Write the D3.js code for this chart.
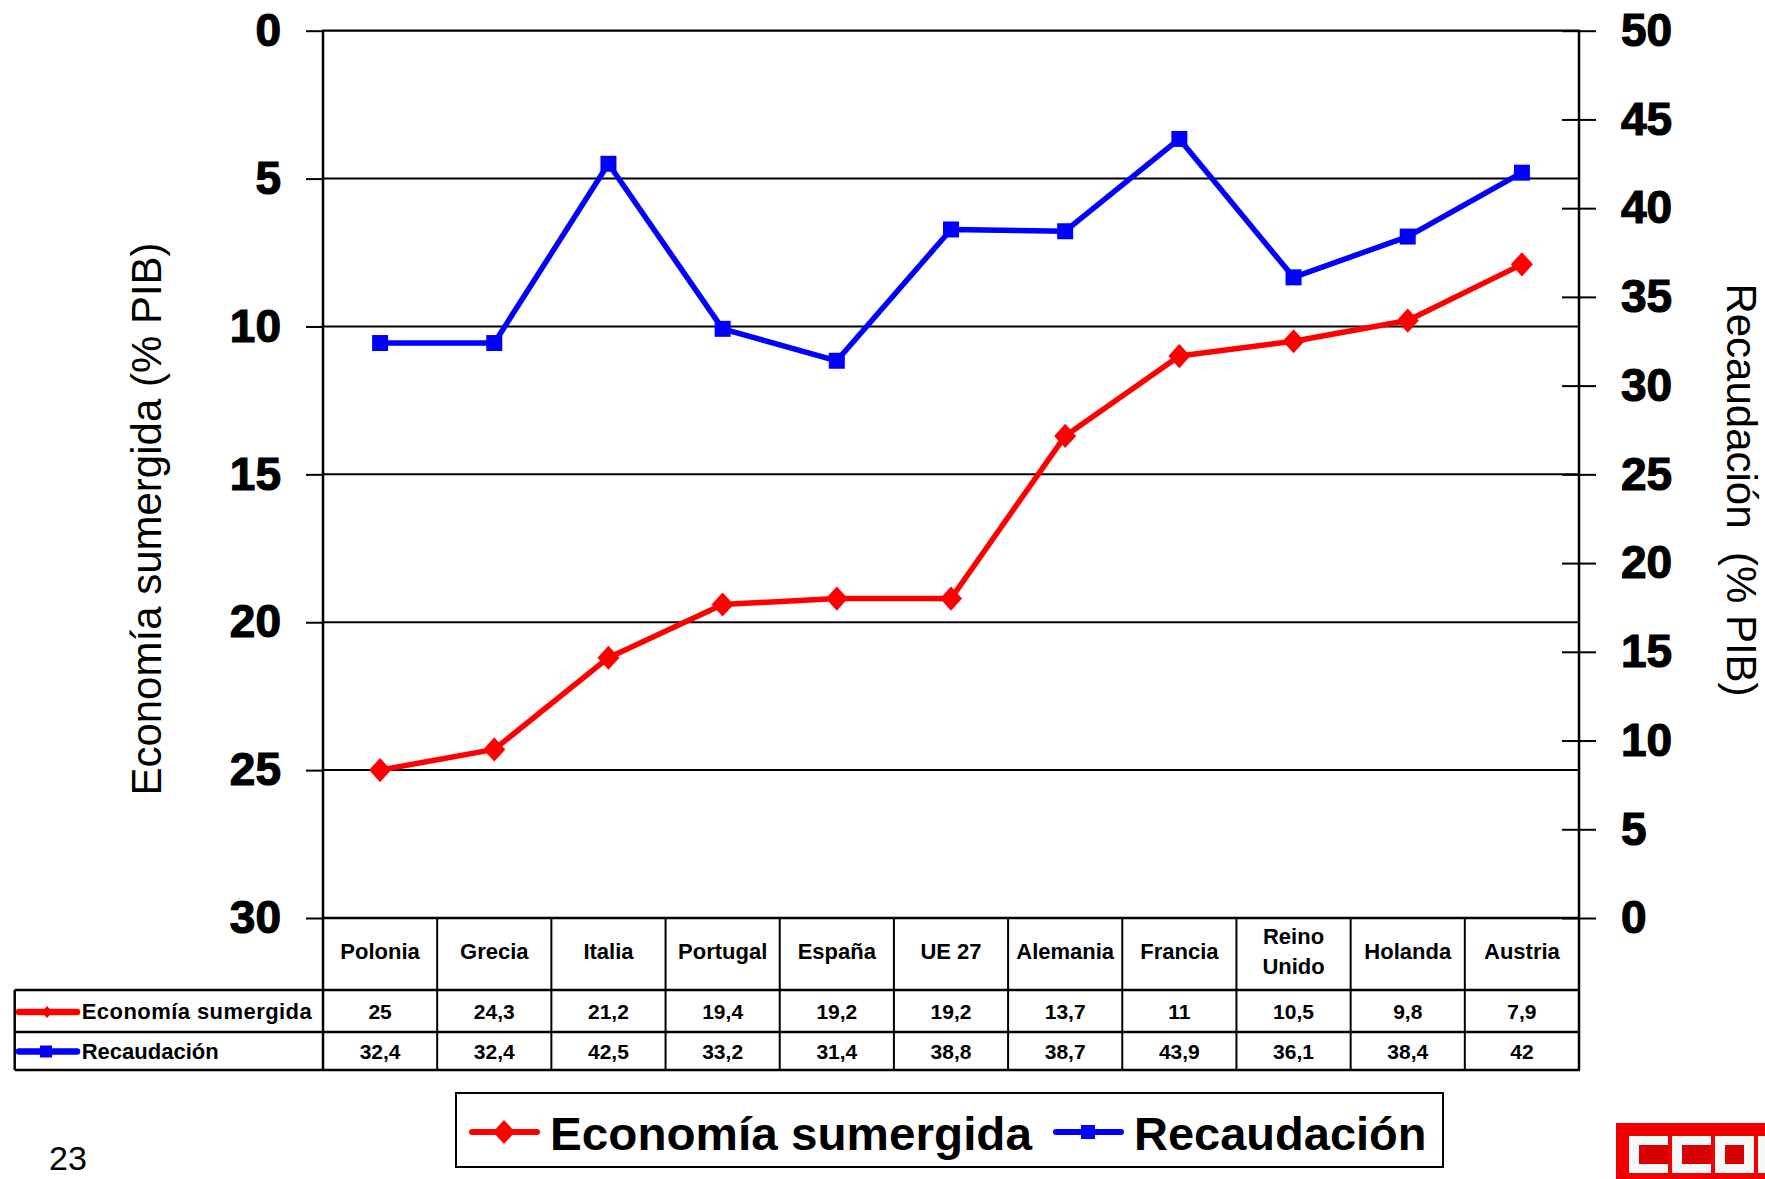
<!DOCTYPE html>
<html>
<head>
<meta charset="utf-8">
<script src="https://cdn.jsdelivr.net/npm/d3@7"></script>
<style>
  html, body { margin: 0; padding: 0; background: #fff; }
  svg { display: block; font-family: "Liberation Sans", Arial, Helvetica, sans-serif; }
</style>
</head>
<body>
<svg id="chart" width="1765" height="1179"></svg>
<script>
// ---- data ----
const categories = ["Polonia", "Grecia", "Italia", "Portugal", "España", "UE 27", "Alemania", "Francia", "Reino Unido", "Holanda", "Austria"];
const categoryLines = [["Polonia"], ["Grecia"], ["Italia"], ["Portugal"], ["España"], ["UE 27"], ["Alemania"], ["Francia"], ["Reino", "Unido"], ["Holanda"], ["Austria"]];
const economiaSumergida = [25, 24.3, 21.2, 19.4, 19.2, 19.2, 13.7, 11, 10.5, 9.8, 7.9];
const recaudacion = [32.4, 32.4, 42.5, 33.2, 31.4, 38.8, 38.7, 43.9, 36.1, 38.4, 42];
const leftTicks = [0, 5, 10, 15, 20, 25, 30];
const rightTicks = [0, 5, 10, 15, 20, 25, 30, 35, 40, 45, 50];
const seriesNames = ["Economía sumergida", "Recaudación"];
const leftTitle = "Economía sumergida (% PIB)";
const rightTitle = "Recaudación  (% PIB)";
const pageNumber = "23";

// ---- layout ----
const svg = d3.select("#chart");
const L = 323, R = 1579, T = 30.7, B = 918;
const tableLeft = 14.7, row1 = 990, row2 = 1032, row3 = 1070;
const RED = "#ff0000", BLUE = "#0000ff";
const fmt = v => String(v).replace(".", ",");

const x = d3.scaleBand().domain(categories).range([L, R]).padding(0);
const yLeft = d3.scaleLinear().domain([0, 30]).range([T, B]);
const yRight = d3.scaleLinear().domain([0, 50]).range([B, T]);

// custom diamond symbol (wide)
const wideDiamond = {
  draw(ctx, size) {
    const w = Math.sqrt(size) / 2;
    ctx.moveTo(0, -w * 1.1); ctx.lineTo(w, 0); ctx.lineTo(0, w * 1.1); ctx.lineTo(-w, 0); ctx.closePath();
  }
};

// gridlines (left axis)
svg.append("g").selectAll("line").data(leftTicks.filter(t => t > 0 && t < 30)).join("line")
  .attr("x1", L).attr("x2", R).attr("y1", d => yLeft(d)).attr("y2", d => yLeft(d))
  .attr("stroke", "#000").attr("stroke-width", 2);

// frame: top & bottom lines
svg.append("line").attr("x1", L).attr("x2", R).attr("y1", yLeft(0)).attr("y2", yLeft(0)).attr("stroke", "#000").attr("stroke-width", 2.2);
svg.append("line").attr("x1", L).attr("x2", R).attr("y1", yLeft(30)).attr("y2", yLeft(30)).attr("stroke", "#000").attr("stroke-width", 2.5);

// left axis
const gl = svg.append("g").attr("transform", `translate(${L},0)`)
  .call(d3.axisLeft(yLeft).tickValues(leftTicks).tickSize(17).tickPadding(25).tickFormat(d3.format("d")));
gl.select(".domain").remove();
gl.selectAll(".tick line").attr("stroke", "#000").attr("stroke-width", 2);
gl.selectAll(".tick text").attr("font-size", 46).attr("font-weight", "bold").attr("fill", "#000")
  .attr("stroke", "#000").attr("stroke-width", 1.2).attr("font-family", "'Liberation Sans', Arial, sans-serif");

// right axis (ticks crossing)
const gr = svg.append("g").attr("transform", `translate(${R},0)`)
  .call(d3.axisRight(yRight).tickValues(rightTicks).tickSize(17).tickPadding(25).tickFormat(d3.format("d")));
gr.select(".domain").remove();
gr.selectAll(".tick line").attr("stroke", "#000").attr("stroke-width", 2);
gr.selectAll(".tick text").attr("font-size", 46).attr("font-weight", "bold").attr("fill", "#000")
  .attr("stroke", "#000").attr("stroke-width", 1.2).attr("font-family", "'Liberation Sans', Arial, sans-serif");
const gr2 = svg.append("g").attr("transform", `translate(${R},0)`)
  .call(d3.axisLeft(yRight).tickValues(rightTicks).tickSize(17).tickFormat(""));
gr2.select(".domain").remove();
gr2.selectAll(".tick line").attr("stroke", "#000").attr("stroke-width", 2);

// vertical frame lines extending through table
svg.append("line").attr("x1", L).attr("x2", L).attr("y1", T - 1).attr("y2", row3).attr("stroke", "#000").attr("stroke-width", 2.5);
svg.append("line").attr("x1", R).attr("x2", R).attr("y1", T - 1).attr("y2", row3).attr("stroke", "#000").attr("stroke-width", 2.5);

// axis titles
svg.append("text").attr("transform", `translate(161,${519}) rotate(-90)`)
  .attr("text-anchor", "middle").attr("font-size", 42).attr("fill", "#000").text(leftTitle);
svg.append("text").attr("transform", `translate(1727,${490}) rotate(90)`)
  .attr("text-anchor", "middle").attr("font-size", 42).attr("fill", "#000").style("white-space", "pre")
  .attr("xml:space", "preserve").text(rightTitle);

// ---- series ----
const cx = c => x(c) + x.bandwidth() / 2;
const lineRed = d3.line().x((d, i) => cx(categories[i])).y(d => yLeft(d));
const lineBlue = d3.line().x((d, i) => cx(categories[i])).y(d => yRight(d));

svg.append("path").datum(recaudacion).attr("d", lineBlue).attr("fill", "none").attr("stroke", BLUE).attr("stroke-width", 5.5).attr("stroke-linejoin", "round");
svg.append("g").selectAll("path").data(recaudacion).join("path")
  .attr("transform", (d, i) => `translate(${cx(categories[i])},${yRight(d)})`)
  .attr("d", d3.symbol(d3.symbolSquare, 16 * 16)).attr("fill", BLUE);

svg.append("path").datum(economiaSumergida).attr("d", lineRed).attr("fill", "none").attr("stroke", RED).attr("stroke-width", 5.5).attr("stroke-linejoin", "round");
svg.append("g").selectAll("path").data(economiaSumergida).join("path")
  .attr("transform", (d, i) => `translate(${cx(categories[i])},${yLeft(d)})`)
  .attr("d", d3.symbol(wideDiamond, 22 * 22)).attr("fill", RED);

// ---- data table ----
const tg = svg.append("g");
[row1, row2, row3].forEach(yy => {
  tg.append("line").attr("x1", tableLeft).attr("x2", R + 1).attr("y1", yy).attr("y2", yy).attr("stroke", "#000").attr("stroke-width", 2.5);
});
tg.append("line").attr("x1", tableLeft).attr("x2", tableLeft).attr("y1", row1).attr("y2", row3).attr("stroke", "#000").attr("stroke-width", 2.5);
tg.selectAll("line.col").data(categories.slice(1)).join("line").attr("class", "col")
  .attr("x1", d => x(d)).attr("x2", d => x(d)).attr("y1", B).attr("y2", row3)
  .attr("stroke", "#000").attr("stroke-width", 2);

// category labels
categories.forEach((c, i) => {
  const lines = categoryLines[i];
  const t = tg.append("text").attr("text-anchor", "middle").attr("font-size", 22).attr("font-weight", "bold").attr("fill", "#000");
  if (lines.length === 1) {
    t.append("tspan").attr("x", cx(c)).attr("y", 951).attr("dy", "0.35em").text(lines[0]);
  } else {
    lines.forEach((ln, k) => t.append("tspan").attr("x", cx(c)).attr("y", 936 + k * 30).attr("dy", "0.35em").text(ln));
  }
});

// values
const rowsData = [economiaSumergida, recaudacion];
const rowCenters = [(row1 + row2) / 2, (row2 + row3) / 2];
rowsData.forEach((vals, r) => {
  tg.append("g").selectAll("text").data(vals).join("text")
    .attr("x", (d, i) => cx(categories[i])).attr("y", rowCenters[r]).attr("dy", "0.36em")
    .attr("text-anchor", "middle").attr("font-size", 21).attr("font-weight", "bold").attr("fill", "#000")
    .text(d => fmt(d));
});

// row headers with icons
const iconY = [1012, 1051.5];
[RED, BLUE].forEach((col, r) => {
  tg.append("line").attr("x1", 19).attr("x2", 77).attr("y1", iconY[r]).attr("y2", iconY[r])
    .attr("stroke", col).attr("stroke-width", 6.5).attr("stroke-linecap", "round");
  tg.append("path").attr("transform", `translate(${r === 0 ? 47 : 46},${iconY[r]})`)
    .attr("d", r === 0 ? d3.symbol(wideDiamond, 11 * 11)() : d3.symbol(d3.symbolSquare, 12 * 12)())
    .attr("fill", col);
  const t = tg.append("text").attr("x", 81.7).attr("y", rowCenters[r]).attr("dy", "0.36em")
    .attr("font-size", 22).attr("font-weight", "bold").attr("fill", "#000").text(seriesNames[r]);
  if (r === 0) t.attr("textLength", 230).attr("lengthAdjust", "spacing");
});

// ---- legend ----
const lg = svg.append("g");
lg.append("rect").attr("x", 456).attr("y", 1093).attr("width", 987).attr("height", 74)
  .attr("fill", "#fff").attr("stroke", "#000").attr("stroke-width", 2);
lg.append("line").attr("x1", 472).attr("x2", 537).attr("y1", 1132).attr("y2", 1132)
  .attr("stroke", RED).attr("stroke-width", 6).attr("stroke-linecap", "round");
lg.append("path").attr("transform", "translate(504,1132)").attr("d", d3.symbol(wideDiamond, 22 * 22)()).attr("fill", RED);
lg.append("text").attr("x", 550).attr("y", 1150).attr("font-size", 47).attr("font-weight", "bold").attr("fill", "#000")
  .attr("textLength", 482).attr("lengthAdjust", "spacingAndGlyphs").text(seriesNames[0]);
lg.append("line").attr("x1", 1056).attr("x2", 1121).attr("y1", 1132).attr("y2", 1132)
  .attr("stroke", BLUE).attr("stroke-width", 6).attr("stroke-linecap", "round");
lg.append("path").attr("transform", "translate(1088,1132)").attr("d", d3.symbol(d3.symbolSquare, 14 * 14)()).attr("fill", BLUE);
lg.append("text").attr("x", 1134).attr("y", 1150).attr("font-size", 47).attr("font-weight", "bold").attr("fill", "#000").text(seriesNames[1]);

// ---- page number ----
svg.append("text").attr("x", 49).attr("y", 1170).attr("font-size", 34).attr("fill", "#000").text(pageNumber);

// ---- logo ----
const logo = svg.append("g");
logo.append("rect").attr("x", 1616).attr("y", 1123).attr("width", 149).attr("height", 56).attr("fill", "#f20000");
const letters = [{x: 1629, open: true}, {x: 1672, open: true}, {x: 1715, open: false}, {x: 1758, open: false}];
letters.forEach(l => {
  logo.append("rect").attr("x", l.x).attr("y", 1136).attr("width", 39).attr("height", 37).attr("fill", "#f4f8f8");
  logo.append("rect").attr("x", l.x + 10).attr("y", 1145).attr("width", l.open ? 29 : 19).attr("height", 19).attr("fill", "#d80000");
});
</script>
</body>
</html>
